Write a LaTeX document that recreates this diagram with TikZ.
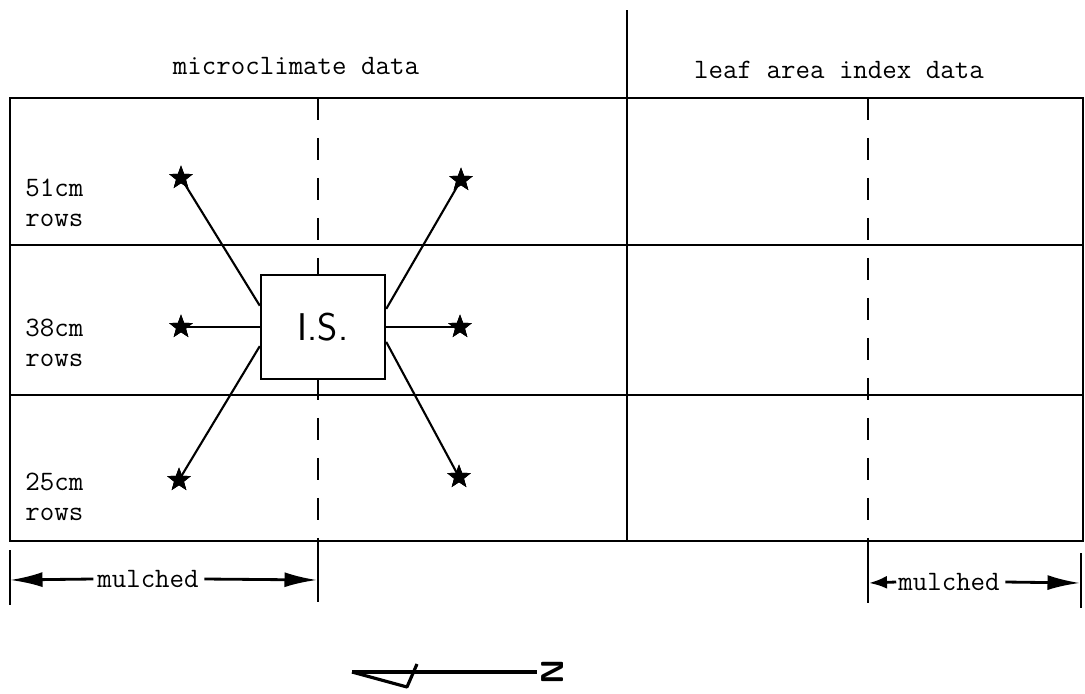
\documentclass[tikz,border=0pt]{standalone}
\usetikzlibrary{shapes.geometric,arrows.meta,calc}
\begin{document}
\begin{tikzpicture}[x=0.02cm,y=-0.02cm,
  frame/.style={line width=1.4pt},
  dashline/.style={line width=1.2pt,dash pattern=on 0.44cm off 0.36cm},
  tt/.style={font=\fontsize{16}{17}\selectfont\ttfamily,inner sep=0pt},
  starnode/.style={star,star points=5,star point ratio=2.4,fill=black,draw=black,minimum size=0.46cm,inner sep=0pt},
  link/.style={line width=1.2pt},
  marrow/.style={line width=1.6pt,-{Latex[length=6.5mm,width=3mm]}},
  sarrow/.style={line width=1.6pt,-{Latex[length=3.6mm,width=2.6mm]}},
  tick/.style={line width=1.4pt}]
\useasboundingbox (0,0) rectangle (1085,693);
% frame
\draw[frame] (10,98) rectangle (1083,541);
\draw[frame] (10,245) -- (1083,245);
\draw[frame] (10,395) -- (1083,395);
\draw[frame] (627,10) -- (627,541);
% dashed dividers
\draw[dashline] (318,98) -- (318,541);
\draw[dashline] (868,98) -- (868,541);
\draw[tick] (318,541) -- (318,602);
\draw[tick] (868,541) -- (868,603);
\draw[tick] (10,550) -- (10,605);
\draw[tick] (1081,553) -- (1081,608);
% headings
\node[tt] (h1) at (296,66) {microclimate data};
\node[tt] (h2) at (839,70) {leaf area index data};
% row labels
\node[tt,align=left,anchor=west] (r1) at (25,203) {51cm\\rows};
\node[tt,align=left,anchor=west] (r2) at (25,343) {38cm\\rows};
\node[tt,align=left,anchor=west] (r3) at (25,497) {25cm\\rows};
% instrument station
\node[draw,line width=1.4pt,fill=white,minimum width=2.48cm,minimum height=2.08cm,inner sep=0pt,
  font=\fontsize{22}{24}\selectfont\sffamily] (is) at (323,327) {I.S.};
% stars
\node[starnode] (s1) at (181,178) {};
\node[starnode] (s2) at (461,180) {};
\node[starnode] (s3) at (181,327) {};
\node[starnode] (s4) at (460,327) {};
\node[starnode] (s5) at (179,480) {};
\node[starnode] (s6) at (459,477) {};
% links
\draw[link] ($(is.north west)!0.30!(is.south west)$) -- (s1.center);
\draw[link] ($(is.north east)!0.33!(is.south east)$) -- (s2.center);
\draw[link] (is.west) -- (s3.center);
\draw[link] (is.east) -- (s4.center);
\draw[link] ($(is.north west)!0.68!(is.south west)$) -- (s5.center);
\draw[link] ($(is.north east)!0.64!(is.south east)$) -- (s6.center);
% redraw stars on top
\foreach \p in {(181,178),(461,180),(181,327),(460,327),(179,480),(459,477)}
  \node[starnode] at \p {};
% mulched arrows
\coordinate (l1) at (10,580);
\coordinate (l2) at (317,580);
\coordinate (l3) at (869,583);
\coordinate (l4) at (1080,583);
\node[tt] (m1) at (148,579) {mulched};
\node[tt] (m2) at (949,582) {mulched};
\draw[marrow] ([xshift=-2pt]m1.west) -- (l1);
\draw[marrow] ([xshift=3pt]m1.east) -- (l2);
\draw[sarrow] ([xshift=-1pt]m2.west) -- (l3);
\draw[marrow] ([xshift=3pt]m2.east) -- (l4);
% north symbol
\coordinate (n1) at (352,672);
\coordinate (n2) at (537,672);
\draw[line width=1.8pt] (n1) -- (n2);
\draw[line width=1.8pt,line join=round] (n1) -- (407,687) -- (417,664);
\node[font=\fontsize{18}{19}\selectfont\sffamily\bfseries,rotate=90,inner sep=0pt] (nn) at (553,672) {N};
\end{tikzpicture}
\end{document}
